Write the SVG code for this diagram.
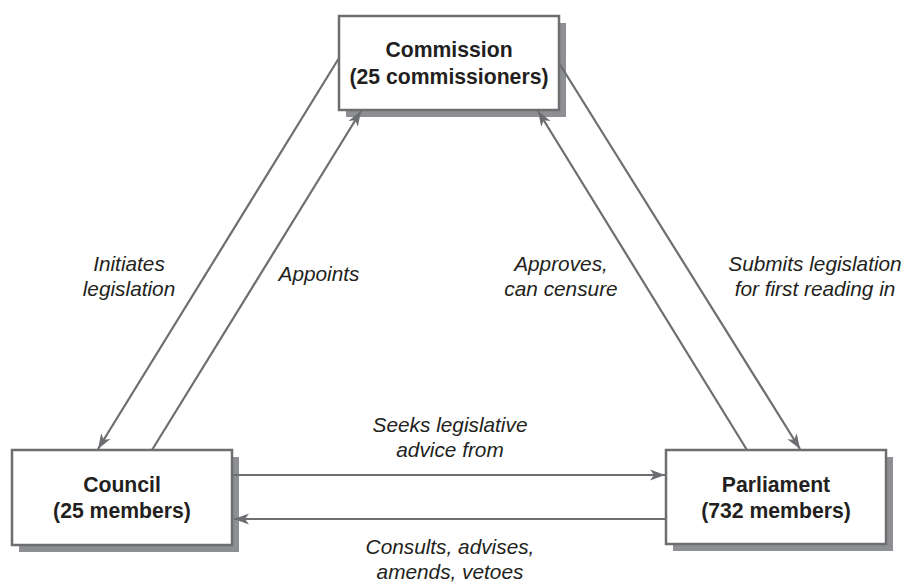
<svg xmlns="http://www.w3.org/2000/svg" width="908" height="584" viewBox="0 0 908 584">
<defs>
<style>
.shadow{fill:#8e8f93;}
.box{fill:#ffffff;stroke:#6d6e71;stroke-width:2.5;}
.nt{font-family:"Liberation Sans",Arial,sans-serif;font-weight:bold;font-size:21.2px;fill:#231f20;text-anchor:middle;}
.lt{font-family:"Liberation Sans",Arial,sans-serif;font-style:italic;font-size:20.8px;fill:#231f20;text-anchor:middle;}
.con{fill:none;stroke:#6d6e71;stroke-width:2.2;}
</style>
<marker id="arr" markerUnits="userSpaceOnUse" markerWidth="16" markerHeight="12" refX="15" refY="6" orient="auto">
<path d="M0,0.5 L15,6 L0,11.5 L4,6 z" fill="#6d6e71"/>
</marker>
</defs>
<rect width="908" height="584" fill="#ffffff"/>
<g id="commission">
<rect class="shadow" x="346" y="23" width="220" height="94"/>
<rect class="box" x="339" y="16" width="220" height="94"/>
<text class="nt" x="449" y="57">Commission</text>
<text class="nt" x="449" y="84">(25 commissioners)</text>
</g>
<g id="council">
<rect class="shadow" x="19" y="457" width="220" height="95"/>
<rect class="box" x="12" y="450" width="220" height="95"/>
<text class="nt" x="122" y="492">Council</text>
<text class="nt" x="122" y="518">(25 members)</text>
</g>
<g id="parliament">
<rect class="shadow" x="673" y="457" width="220" height="94"/>
<rect class="box" x="666" y="450" width="220" height="94"/>
<text class="nt" x="776" y="492">Parliament</text>
<text class="nt" x="776" y="518">(732 members)</text>
</g>
<g id="connectors">
<line class="con" x1="339" y1="58" x2="98" y2="449" marker-end="url(#arr)"/>
<line class="con" x1="152" y1="450" x2="361" y2="111" marker-end="url(#arr)"/>
<line class="con" x1="747" y1="450" x2="538" y2="111" marker-end="url(#arr)"/>
<line class="con" x1="559" y1="63" x2="800" y2="449" marker-end="url(#arr)"/>
<line class="con" x1="233" y1="475" x2="665" y2="475" marker-end="url(#arr)"/>
<line class="con" x1="665" y1="519" x2="234" y2="519" marker-end="url(#arr)"/>
</g>
<g id="labels">
<text class="lt" x="129" y="271">Initiates</text>
<text class="lt" x="129" y="296">legislation</text>
<text class="lt" x="319" y="281">Appoints</text>
<text class="lt" x="561" y="271">Approves,</text>
<text class="lt" x="561" y="296">can censure</text>
<text class="lt" x="815" y="271">Submits legislation</text>
<text class="lt" x="815" y="296">for first reading in</text>
<text class="lt" x="450" y="432">Seeks legislative</text>
<text class="lt" x="450" y="457">advice from</text>
<text class="lt" x="450" y="554">Consults, advises,</text>
<text class="lt" x="450" y="579">amends, vetoes</text>
</g>
</svg>
